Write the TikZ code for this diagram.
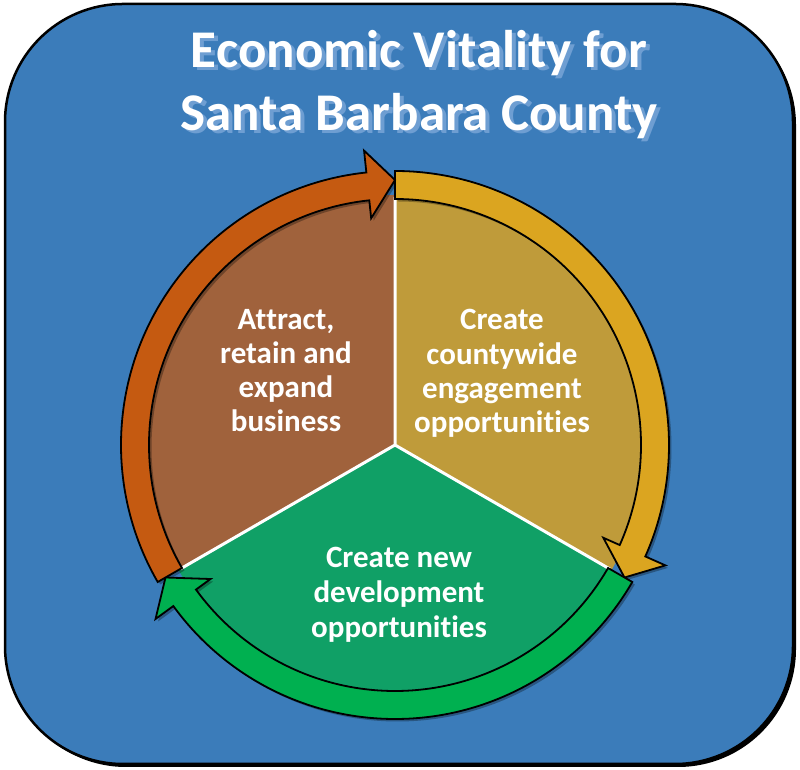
\documentclass[tikz,border=0pt]{standalone}
\usepackage{fontspec}
\setmainfont{Carlito}[Ligatures={NoCommon}, RawFeature={-liga;-clig;-dlig}]
\newcommand{\nolig}{\kern0pt}
\definecolor{bgblue}{HTML}{3B7CBA}
\definecolor{titleshadow}{HTML}{6E9ED2}
\definecolor{brownS}{HTML}{A0623C}
\definecolor{goldS}{HTML}{BF9B3A}
\definecolor{greenS}{HTML}{10A066}
\definecolor{orangeA}{HTML}{C55A11}
\definecolor{goldA}{HTML}{DBA520}
\definecolor{greenA}{HTML}{00B050}
\begin{document}
\begin{tikzpicture}[x=1pt,y=1pt,
  titletext/.style={font=\fontsize{53}{63}\selectfont\bfseries, inner sep=0, anchor=base},
  lbl/.style={text=white, font=\fontsize{31}{34}\selectfont\bfseries, inner sep=0, anchor=base},
  arrowshape/.style={draw=black, line width=1.8pt, line join=miter},
  arrowshadow/.style={fill=black, opacity=0.3}]
\useasboundingbox (0,0) rectangle (800,770);
% panel
\fill[black, rounded corners=118] (8,3) rectangle (796,763);
\draw[fill=bgblue, line width=2.5pt, rounded corners=118] (5,6) rectangle (793,766);
% title
\node[titletext, text=titleshadow] (ts1) at (423,699) {Economic Vitality for};
\node[titletext, text=titleshadow] (ts2) at (423,636) {Santa Barbara County};
\node[titletext, text=white] (t1) at (419,702) {Economic Vitality for};
\node[titletext, text=white] (t2) at (419,639) {Santa Barbara County};
% pie
\begin{scope}[shift={(395,325)}]
  \fill[brownS] (0,0) -- (90:250) arc[start angle=90, end angle=210, radius=250] -- cycle;
  \fill[goldS] (0,0) -- (-30:250) arc[start angle=-30, end angle=90, radius=250] -- cycle;
  \fill[greenS] (0,0) -- (210:250) arc[start angle=210, end angle=330, radius=250] -- cycle;
  \draw[white, line width=3pt] (0,0) -- (90:248) (0,0) -- (210:248) (0,0) -- (330:248);
  % arrow shadows
  \foreach \a in {90,-30,210}
    \fill[arrowshadow, shift={(2.5,-2.5)}] (\a:274) arc[start angle=\a, end angle={\a-114}, radius=274]
      -- ({\a-114}:296) -- ({\a-120}:265) -- ({\a-114}:228) -- ({\a-114}:246)
      arc[start angle={\a-114}, end angle=\a, radius=246] -- cycle;
  % arrows
  \foreach \a/\c in {90/goldA,-30/greenA,210/orangeA}
    \filldraw[arrowshape, fill=\c] (\a:274) arc[start angle=\a, end angle={\a-114}, radius=274]
      -- ({\a-114}:296) -- ({\a-120}:265) -- ({\a-114}:228) -- ({\a-114}:246)
      arc[start angle={\a-114}, end angle=\a, radius=246] -- cycle;
\end{scope}
% sector texts
\node[lbl] (b1) at (286,440) {At\nolig t\nolig ract,};
\node[lbl] (b2) at (286,406) {retain and};
\node[lbl] (b3) at (286,372) {expand};
\node[lbl] (b4) at (286,338) {business};
\node[lbl] (g1) at (502,440) {Create};
\node[lbl] (g2) at (502,405) {countywide};
\node[lbl] (g3) at (502,371) {engagement};
\node[lbl] (g4) at (502,337) {opportunit\nolig i\nolig es};
\node[lbl] (n1) at (399,202) {Create new};
\node[lbl] (n2) at (399,167) {development};
\node[lbl] (n3) at (399,132) {opportunit\nolig i\nolig es};
\end{tikzpicture}
\end{document}
